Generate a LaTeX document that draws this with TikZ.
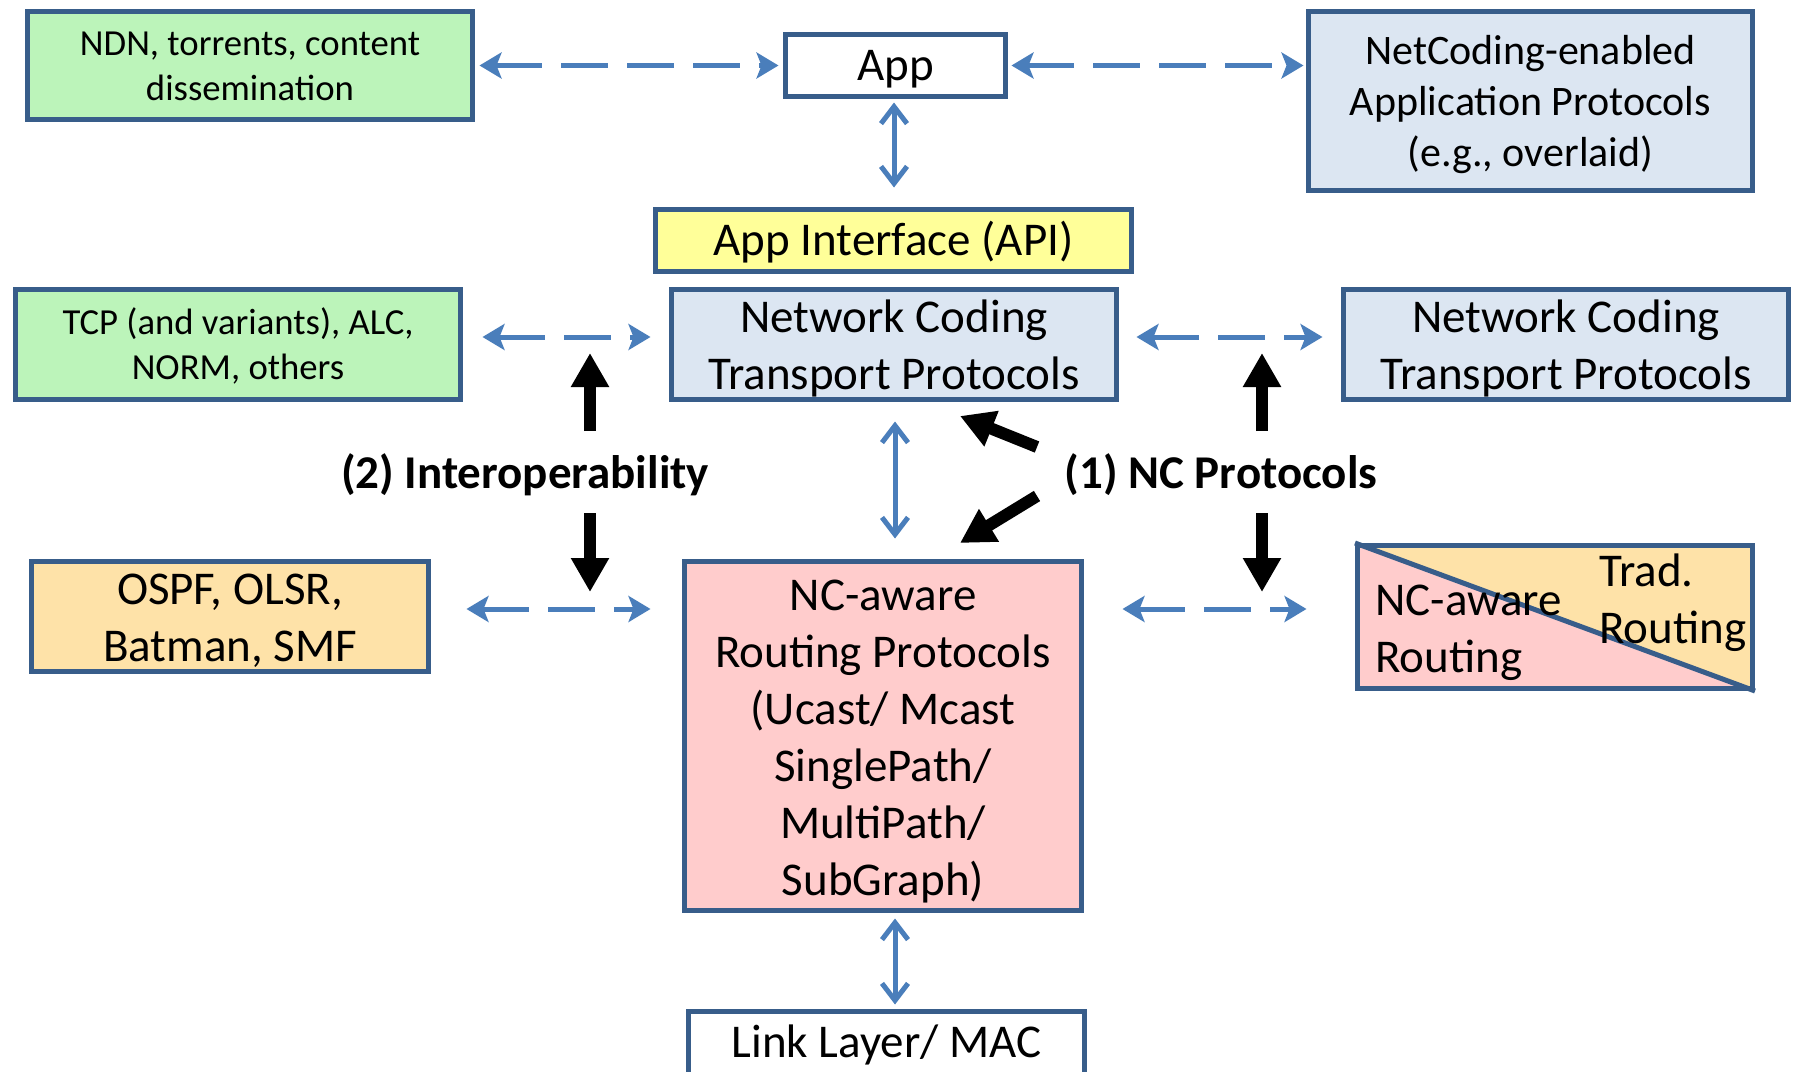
\documentclass[tikz,border=0pt]{standalone}
\usepackage{fontspec}
\setmainfont{Carlito}
\usetikzlibrary{arrows.meta,calc}

\definecolor{frame}{RGB}{56,93,138}
\definecolor{linkblue}{RGB}{74,126,187}
\definecolor{greenfill}{RGB}{188,244,186}
\definecolor{bluefill}{RGB}{220,230,242}
\definecolor{yellowfill}{RGB}{255,255,153}
\definecolor{pinkfill}{RGB}{255,204,204}
\definecolor{peachfill}{RGB}{254,226,168}

\tikzset{
  box/.style={draw=frame, line width=5pt, inner sep=0pt, rectangle},
  % multi-line texts are placed by the baseline of their last line
  bigtext/.style={font=\fontsize{47}{57}\selectfont, align=center, inner sep=0pt, anchor=base},
  midtext/.style={font=\fontsize{42}{51}\selectfont, align=center, inner sep=0pt, anchor=base},
  smalltext/.style={font=\fontsize{36.7}{44.8}\selectfont, align=center, inner sep=0pt, anchor=base},
  tag/.style={font=\bfseries\fontsize{47}{57}\selectfont, inner sep=0pt, anchor=base},
  dlink/.style={linkblue, line width=5pt, dash pattern=on 47pt off 19pt,
    {Stealth[length=22pt,width=26pt,inset=5pt]}-{Stealth[length=22pt,width=26pt,inset=5pt]}},
  vlink/.style={linkblue, line width=5pt,
    {Straight Barb[length=17pt,width=26pt]}-{Straight Barb[length=17pt,width=26pt]}},
  push/.style={black, line width=12pt, -{Triangle[length=34pt,width=36pt]}},
}

\begin{document}
\begin{tikzpicture}[x=1pt,y=-1pt]
\clip (0,0) rectangle (1795,1071);
\fill[white] (0,0) rectangle (1795,1071);

% ---- boxes ----
\node[box, fill=greenfill, minimum width=445pt, minimum height=108pt] (ndn) at (250,65.5) {};
\node[box, fill=white, minimum width=220pt, minimum height=62pt] (app) at (895.5,65.5) {};
\node[box, fill=bluefill, minimum width=444pt, minimum height=179pt] (ncapp) at (1530.5,101) {};
\node[box, fill=yellowfill, minimum width=476pt, minimum height=62pt] (api) at (893.5,240.5) {};
\node[box, fill=greenfill, minimum width=445pt, minimum height=110pt] (tcp) at (238,344.5) {};
\node[box, fill=bluefill, minimum width=445pt, minimum height=110pt] (nct) at (894,344.5) {};
\node[box, fill=bluefill, minimum width=445pt, minimum height=110pt] (nct2) at (1566,344.5) {};
\node[box, fill=peachfill, minimum width=397pt, minimum height=110pt] (ospf) at (230,616.5) {};
\node[box, fill=pinkfill, minimum width=397pt, minimum height=349pt] (ncr) at (883,736) {};
\node[box, fill=white, minimum width=396pt, minimum height=88.5pt] (link) at (886.5,1055.75) {};
\node[box, fill=pinkfill, minimum width=395pt, minimum height=143pt,
  path picture={
    \fill[peachfill] (path picture bounding box.north west) -- (path picture bounding box.north east)
      -- (path picture bounding box.south east) -- cycle;
  }] (split) at (1555,617) {};
\draw[frame, line width=5pt] (split.north west) -- (split.south east);

% ---- box texts ----
\node[smalltext] (ndnT) at (250,100) {NDN, torrents, content\\dissemination};
\node[bigtext] (appT) at (895.5,80) {App};
\node[midtext] (ncappT) at (1530.5,166) {NetCoding-enabled\\Application Protocols\\(e.g., overlaid)};
\node[bigtext] (apiT) at (893.5,255) {App Interface (API)};
\node[smalltext] (tcpT) at (238,379) {TCP (and variants), ALC,\\NORM, others};
\node[bigtext] (nctT) at (894,389) {Network Coding\\Transport Protocols};
\node[bigtext] (nct2T) at (1566,389) {Network Coding\\Transport Protocols};
\node[bigtext] (ospfT) at (230,661) {OSPF, OLSR,\\Batman, SMF};
\node[bigtext] (ncrT) at (883,895) {NC-aware\\Routing Protocols\\(Ucast/ Mcast\\SinglePath/\\MultiPath/\\SubGraph)};
\node[bigtext] (linkT) at (886.5,1057) {Link Layer/ MAC};
\node[bigtext, align=left, anchor=base west] (splitA) at (1375,672) {NC-aware\\Routing};
\node[bigtext, align=left, anchor=base west] (splitB) at (1599,643) {Trad.\\Routing};

% ---- labels ----
\node[tag] (interop) at (525,488) {(2) Interoperability};
\node[tag] (ncprot) at (1221,488) {(1) NC Protocols};

% ---- dashed interoperability links ----
\draw[dlink] ($(ndn.east)+(4.5,0)$) -- ($(app.west)+(-4.5,0)$);
\draw[dlink] ($(app.east)+(3.5,0)$) -- ($(app.east -| ncapp.west)+(-2.5,0)$);
\draw[dlink] ($(tcp.east)+(19.5,-7.5)$) -- ($(nct.west)+(-18.5,-7.5)$);
\draw[dlink] ($(nct.east)+(17.5,-7.5)$) -- ($(nct2.west)+(-18.5,-7.5)$);
\draw[dlink] ($(ospf.east)+(35.5,-7.5)$) -- ($(ospf.east -| ncr.west)+(-31.5,-7.5)$);
\draw[dlink] ($(ncr.east |- split.west)+(38.5,-8)$) -- ($(split.west)+(-48.5,-8)$);

% ---- vertical stack links ----
\draw[vlink] ($(app.south)+(-1.5,3.5)$) -- ($(app.south |- api.north)+(-1.5,-19.5)$);
\draw[vlink] ($(nct.south)+(1,19.5)$) -- ($(nct.south |- ncr.north)+(1,-20.5)$);
\draw[vlink] ($(nct.south |- ncr.south)+(1,5.5)$) -- ($(nct.south |- link.north)+(1,-4.5)$);

% ---- black pointer arrows ----
\coordinate (iuS) at (590,431); \coordinate (iuE) at (590,353);
\coordinate (idS) at (590,513); \coordinate (idE) at (590,592);
\coordinate (nuS) at (1262,431); \coordinate (nuE) at (1262,353);
\coordinate (ndS) at (1262,513); \coordinate (ndE) at (1262,592);
\coordinate (naS) at (1037,447); \coordinate (naE) at (960,416);
\coordinate (nbS) at (1037,496); \coordinate (nbE) at (960,543);
\draw[push] (iuS) -- (iuE);
\draw[push] (idS) -- (idE);
\draw[push] (nuS) -- (nuE);
\draw[push] (ndS) -- (ndE);
\draw[push] (naS) -- (naE);
\draw[push] (nbS) -- (nbE);
\end{tikzpicture}
\end{document}
